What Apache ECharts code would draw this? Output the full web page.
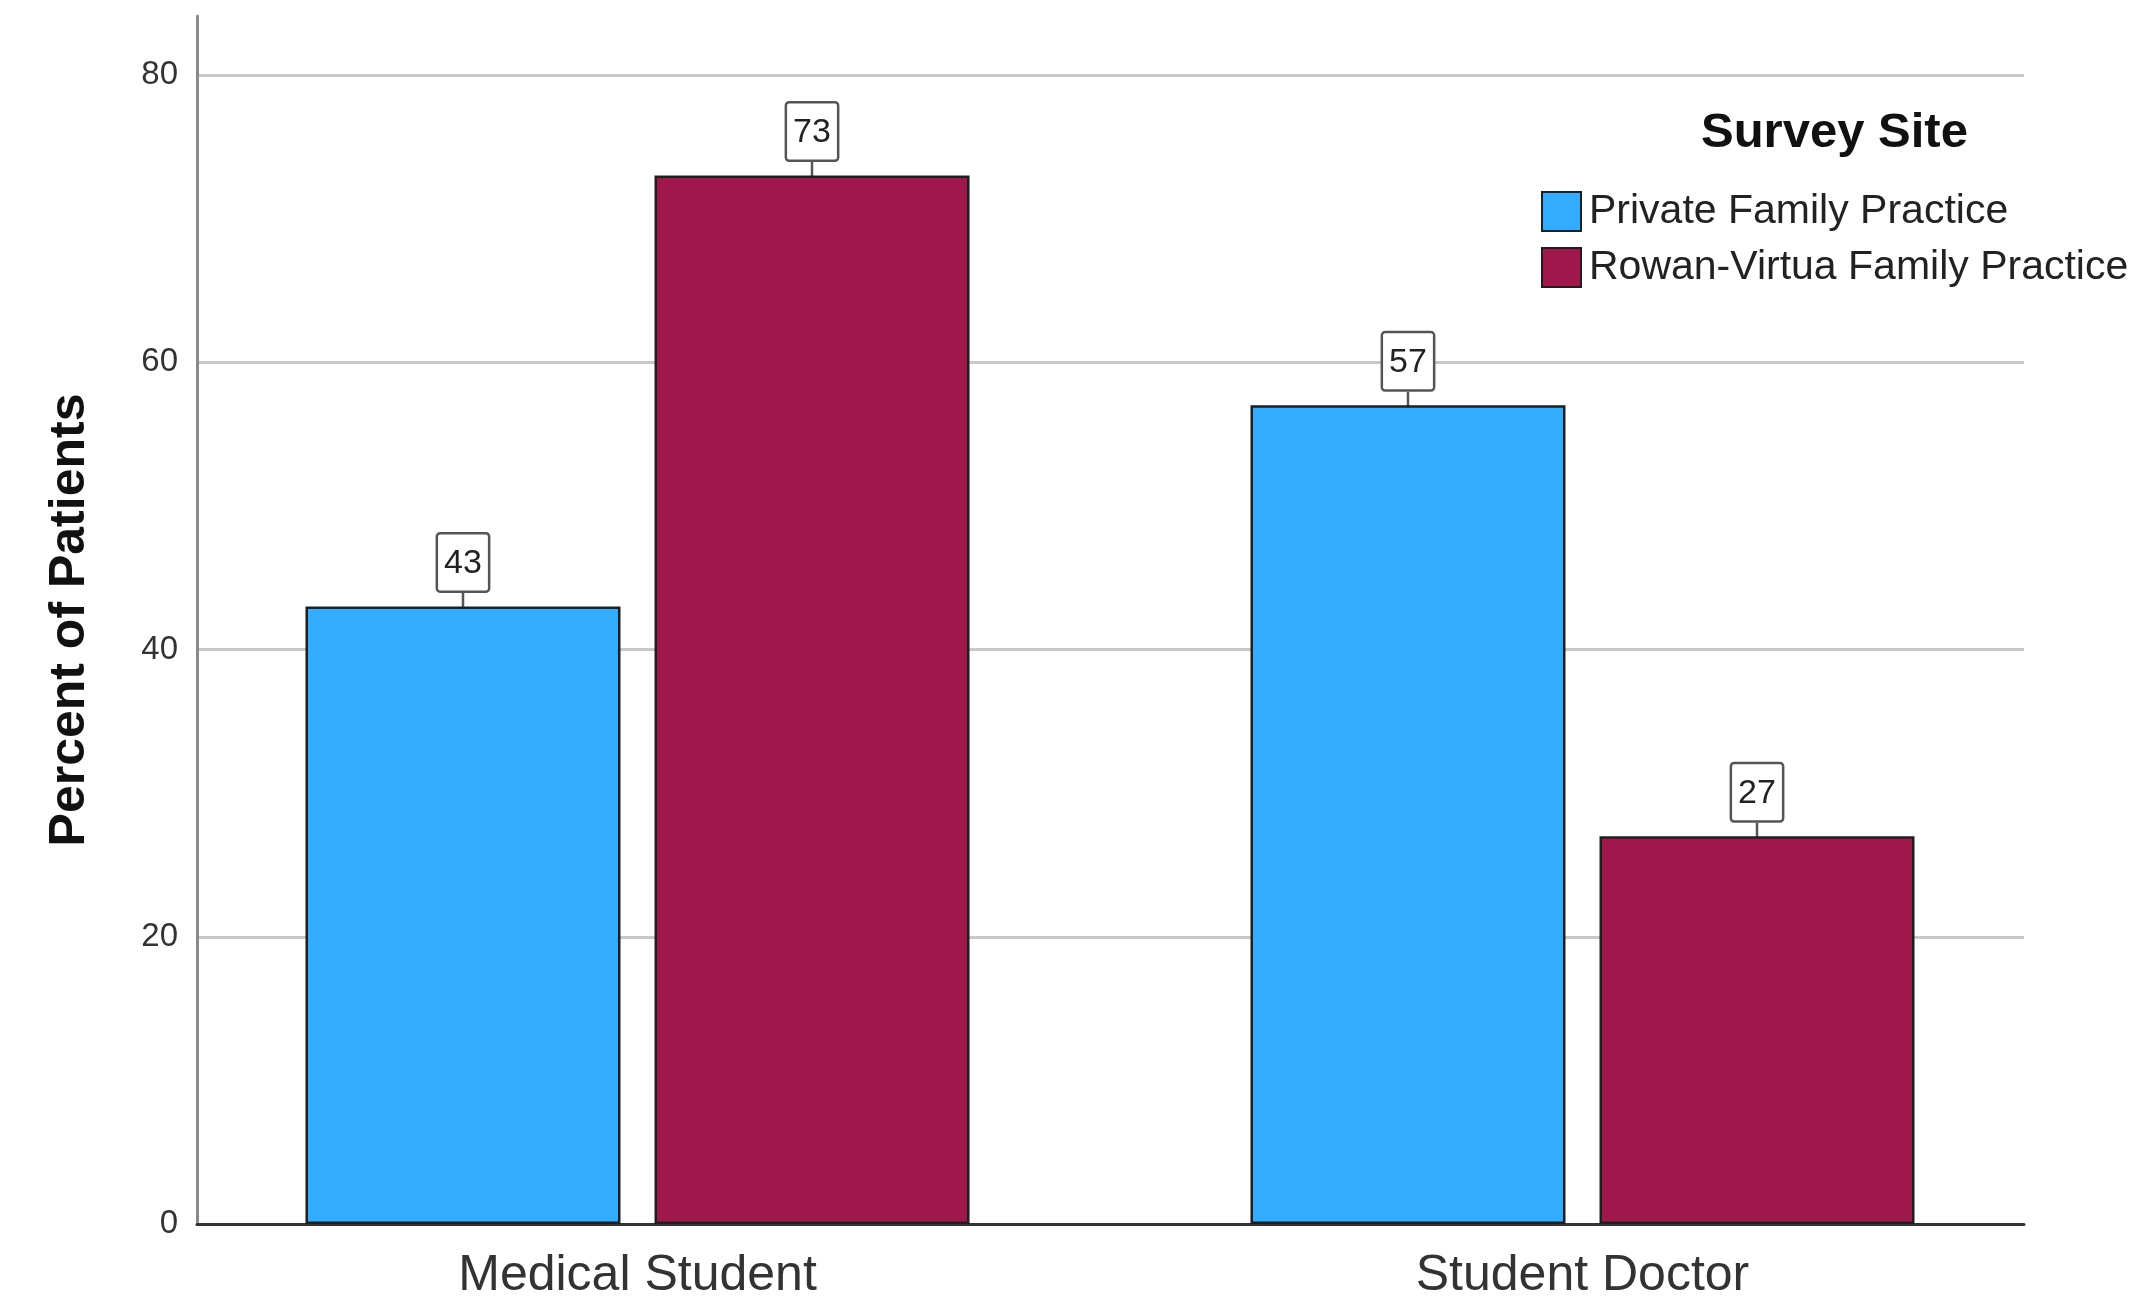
<!DOCTYPE html>
<html>
<head>
<meta charset="utf-8">
<script src="https://cdn.jsdelivr.net/npm/echarts@6/dist/echarts.min.js"></script>
<style>
html,body{margin:0;padding:0;background:#fff;}
#chart{width:2130px;height:1296px;}
</style>
</head>
<body>
<div id="chart"></div>
<script>
const categories = ['Medical Student', 'Student Doctor'];
const seriesNames = ['Private Family Practice', 'Rowan-Virtua Family Practice'];
const privateValues = [43, 57];
const rowanValues = [73, 27];
const yTicks = [0, 20, 40, 60, 80];
const legendTitle = 'Survey Site';
const yAxisTitle = 'Percent of Patients';

const FONT = '"Liberation Sans", Arial, sans-serif';
const colors = ['#31acfe', '#a0184b'];

const chart = echarts.init(document.getElementById('chart'), null, {renderer: 'canvas'});

function barSeries(name, data, color) {
  return {
    name: name,
    type: 'bar',
    xAxisIndex: 0,
    yAxisIndex: 0,
    data: data,
    barWidth: 315,
    barGap: '10.8%',
    z: 3,
    itemStyle: {color: color, borderColor: '#1e1e1e', borderWidth: 2.5},
    label: {
      show: true,
      position: 'top',
      distance: 0,
      color: '#222',
      fontFamily: FONT,
      fontSize: 34,
      backgroundColor: '#fff',
      borderColor: '#555',
      borderWidth: 2.5,
      borderRadius: 2,
      padding: [12, 6, 10, 6]
    },
    labelLayout: {dy: -16},
    labelLine: {show: true, lineStyle: {color: '#555', width: 2.5}},
    emphasis: {disabled: true}
  };
}

const option = {
  backgroundColor: '#fff',
  animation: false,
  title: {
    text: legendTitle,
    left: 1696,
    top: 104,
    textStyle: {fontFamily: FONT, fontWeight: 'bold', fontSize: 49, color: '#111'}
  },
  legend: {
    orient: 'vertical',
    left: 1536,
    top: 186,
    itemWidth: 39,
    itemHeight: 39,
    itemGap: 15,
    icon: 'rect',
    data: seriesNames,
    textStyle: {fontFamily: FONT, fontSize: 41, color: '#222', padding: [0, 0, 0, 3]}
  },
  grid: [
    {left: 165, right: 75, top: 75, bottom: 72, outerBoundsMode: 'none', containLabel: false},
    {left: 197, right: 106, top: 75, bottom: 72, outerBoundsMode: 'none', containLabel: false},
    {left: 197, right: 106, top: 16, bottom: 72, outerBoundsMode: 'none', containLabel: false}
  ],
  xAxis: [
    {
      type: 'category', gridIndex: 0, data: categories,
      axisLine: {show: false}, axisTick: {show: false},
      axisLabel: {fontFamily: FONT, fontSize: 50, color: '#333', margin: 27}
    },
    {
      type: 'category', gridIndex: 1, data: categories,
      axisLine: {show: true, lineStyle: {color: '#333', width: 3}},
      axisTick: {show: false}, axisLabel: {show: false}
    },
    {
      type: 'category', gridIndex: 2, data: categories, show: false
    }
  ],
  yAxis: [
    {type: 'value', gridIndex: 0, min: 0, max: 80, interval: 20, show: false},
    {
      type: 'value', gridIndex: 1, min: yTicks[0], max: yTicks[yTicks.length - 1], interval: 20,
      axisLine: {show: false}, axisTick: {show: false},
      axisLabel: {fontFamily: FONT, fontSize: 33, color: '#333', margin: 19, padding: [12, 0, 0, 0]},
      splitLine: {show: true, lineStyle: {color: '#c8c8c8', width: 3}}
    },
    {
      type: 'value', gridIndex: 2, min: 0, max: 80,
      axisLine: {show: true, lineStyle: {color: '#8a8a8a', width: 3}},
      axisTick: {show: false}, axisLabel: {show: false}, splitLine: {show: false},
      name: yAxisTitle, nameLocation: 'middle', nameGap: 102, nameRotate: 90,
      nameTextStyle: {fontFamily: FONT, fontWeight: 'bold', fontSize: 50, color: '#111'}
    }
  ],
  series: [
    barSeries(seriesNames[0], privateValues, colors[0]),
    barSeries(seriesNames[1], rowanValues, colors[1])
  ]
};
chart.setOption(option);
</script>
</body>
</html>
